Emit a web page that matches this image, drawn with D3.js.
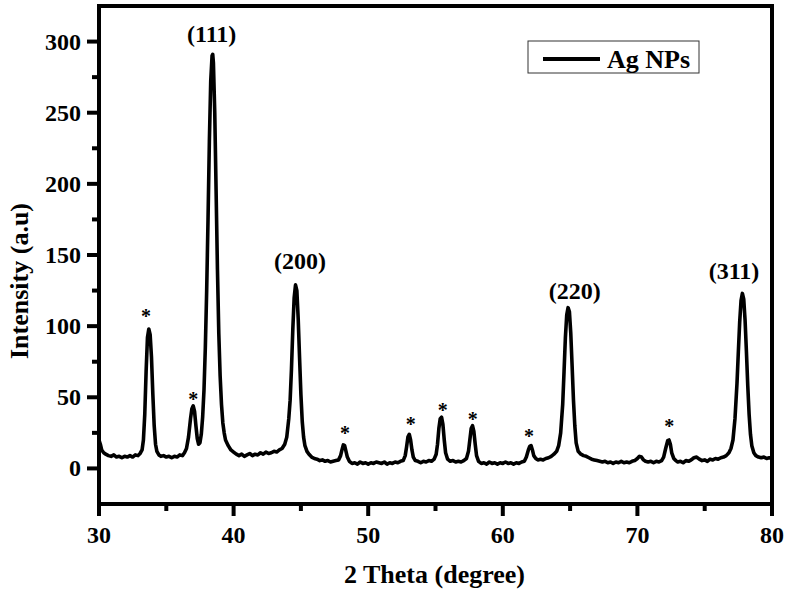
<!DOCTYPE html>
<html>
<head>
<meta charset="utf-8">
<script src="https://cdn.jsdelivr.net/npm/d3@7"></script>
<style>
  body { margin: 0; background: #fff; }
  text { font-family: "Liberation Serif", "Times New Roman", serif; font-weight: bold; fill: #000; }
</style>
</head>
<body>
<script>
const svgWidth = 787
const svgHeight = 597

// 2 theta (degree) and intensity
const twoTheta = [
  30.0, 30.1, 30.2, 30.35, 30.5, 30.7, 30.9, 31.1, 31.3, 31.5, 31.7, 31.9, 32.1, 32.3, 32.5, 32.7, 32.9, 33.05, 33.2,
  33.3, 33.4, 33.5, 33.6, 33.7, 33.8, 33.9, 34.0, 34.1, 34.2, 34.3, 34.45, 34.6, 34.8,
  35.0, 35.2, 35.4, 35.6, 35.8, 36.0, 36.2, 36.35, 36.5, 36.65, 36.8, 36.9, 37.0, 37.1, 37.2, 37.3, 37.4, 37.5,
  37.6, 37.7, 37.8, 37.9, 38.0, 38.1, 38.2, 38.3, 38.4, 38.45, 38.5, 38.6, 38.7, 38.8, 38.9, 39.0, 39.1, 39.2, 39.3, 39.4, 39.6, 39.8,
  40.0, 40.2, 40.4, 40.6, 40.8, 41.0, 41.2, 41.4, 41.6, 41.8, 42.0, 42.2, 42.4, 42.6, 42.8, 43.0, 43.2, 43.4, 43.6, 43.8, 43.95,
  44.1, 44.2, 44.3, 44.4, 44.5, 44.6, 44.7, 44.8, 44.9, 45.0, 45.1, 45.2, 45.3, 45.45, 45.6, 45.8,
  46.0, 46.2, 46.4, 46.6, 46.8, 47.0, 47.2, 47.4, 47.6, 47.8, 47.95, 48.05, 48.15, 48.25, 48.35, 48.45, 48.6, 48.8,
  49.0, 49.2, 49.4, 49.6, 49.8, 50.0, 50.2, 50.4, 50.6, 50.8, 51.0, 51.2, 51.4, 51.6, 51.8, 52.0, 52.2, 52.4, 52.6,
  52.75, 52.85, 52.95, 53.05, 53.15, 53.25, 53.35, 53.5, 53.7, 53.9, 54.1, 54.3, 54.5, 54.7, 54.9,
  55.05, 55.15, 55.25, 55.35, 55.45, 55.55, 55.65, 55.75, 55.9, 56.1, 56.3, 56.5, 56.7, 56.9, 57.1, 57.3,
  57.45, 57.55, 57.65, 57.75, 57.85, 57.95, 58.05, 58.2, 58.4, 58.6, 58.8, 59.0, 59.2, 59.4, 59.6, 59.8,
  60.0, 60.2, 60.4, 60.6, 60.8, 61.0, 61.2, 61.4, 61.6, 61.75, 61.9, 62.0, 62.1, 62.2, 62.3, 62.45, 62.6, 62.8,
  63.0, 63.2, 63.4, 63.6, 63.8, 64.0, 64.15, 64.3, 64.45, 64.55, 64.65, 64.75, 64.85, 64.95, 65.05, 65.15, 65.25, 65.35, 65.45, 65.6, 65.8,
  66.0, 66.2, 66.4, 66.6, 66.8, 67.0, 67.2, 67.4, 67.6, 67.8, 68.0, 68.2, 68.4, 68.6, 68.8, 69.0, 69.2, 69.4, 69.6, 69.8,
  70.0, 70.15, 70.3, 70.45, 70.6, 70.8, 71.0, 71.2, 71.4, 71.6, 71.8, 71.95, 72.1, 72.25, 72.35, 72.45, 72.55, 72.7, 72.85,
  73.0, 73.2, 73.4, 73.6, 73.8, 74.0, 74.2, 74.4, 74.6, 74.8, 75.0, 75.2, 75.4, 75.6, 75.8, 76.0, 76.2, 76.4, 76.6, 76.8, 76.95,
  77.1, 77.25, 77.4, 77.5, 77.6, 77.7, 77.8, 77.9, 78.0, 78.1, 78.2, 78.3, 78.4, 78.5, 78.65, 78.8,
  79.0, 79.2, 79.4, 79.6, 79.8, 80.0
]
const intensity = [
  20, 17, 13, 11, 10, 9, 8.5, 9.5, 8, 8.5, 7.5, 8.5, 8, 9, 8, 9.5, 9, 10.5, 13,
  20, 38, 68, 92, 98, 94, 78, 52, 30, 17, 12, 9.5, 8.5, 9,
  8, 8.5, 7.5, 8.5, 8, 9.5, 9, 11, 14, 22, 35, 42, 44, 40, 30, 21, 17, 18,
  24, 36, 55, 85, 125, 175, 230, 272, 290, 291, 285, 250, 195, 140, 95, 65, 45, 32, 25, 20, 16, 13,
  11.5, 10, 9, 10, 8.5, 9.5, 10.5, 9, 10, 9.5, 11, 10, 11.5, 10.5, 11, 12, 11.5, 13, 14, 17, 22,
  35, 48, 70, 98, 120, 129, 125, 105, 78, 52, 33, 22, 16, 12, 10, 8,
  7, 6.5, 5.5, 6, 5, 5.5, 4.5, 5, 5.5, 6, 9, 13, 16.5, 16, 12, 8, 5, 3.5,
  4, 3, 4.5, 3.5, 4, 3, 4, 3.5, 4.5, 4, 3.5, 4.5, 3, 4, 3.5, 4.5, 4, 5, 5.5,
  9, 15, 22, 24, 20, 13, 8, 5.5, 5, 4, 5, 4.5, 5.5, 5, 6.5,
  10, 17, 28, 35, 36, 31, 20, 11, 6.5, 5, 5.5, 4.5, 5, 4.5, 5.5, 7,
  12, 20, 28, 30, 26, 17, 9, 5, 3.5, 4, 3, 4.5, 3.5, 4, 3, 4,
  3.5, 4.5, 3.5, 4, 3, 4, 3.5, 4.5, 5, 8, 13, 15.5, 16, 13, 9, 7, 6, 6.5,
  6, 7, 7.5, 8.5, 10, 12, 16, 25, 45, 68, 92, 108, 113, 110, 95, 72, 48, 30, 18, 12, 10,
  9, 8.5, 7.5, 6.5, 6, 5.5, 5, 4.5, 5, 4, 4.5, 3.5, 4.5, 4, 5, 4, 4.5, 4, 5, 5.5,
  7, 8.5, 8, 6, 5, 4.5, 5, 4, 5, 4.5, 5.5, 8, 14, 19.5, 20, 17, 11, 7, 5.5,
  4.5, 5, 4, 5.5, 5, 6, 7.5, 8, 6.5, 5.5, 6, 5, 6.5, 6, 7, 6.5, 7.5, 8, 9, 11, 14,
  20, 35, 60, 82, 103, 118, 123, 119, 104, 82, 58, 38, 24, 16, 11, 9,
  8, 7.5, 8, 7, 7.5, 7
]

// Miller index labels (x = label centre, y = baseline, in data units)
const hklLabels = ["(111)", "(200)", "(220)", "(311)"]
const hklX = [38.37, 44.93, 65.35, 77.18]
const hklY = [300, 140, 118.8, 132.8]

// asterisk markers over the impurity peaks
const starX = [33.5, 37.0, 48.28, 53.16, 55.53, 57.76, 61.95, 72.37]
const starY = [109, 51, 26.7, 33, 43, 36.5, 25, 32]

const xMajor = [30, 40, 50, 60, 70, 80]
const xMinor = [35, 45, 55, 65, 75]
const yMajor = [0, 50, 100, 150, 200, 250, 300]
const yMinor = [25, 75, 125, 175, 225, 275]

const seriesName = "Ag NPs"

const margin = { top: 6, right: 15, bottom: 93, left: 99 }
const chartWidth = svgWidth - margin.left - margin.right
const chartHeight = svgHeight - margin.top - margin.bottom

const svg = d3.select("body").append("svg")
  .attr("width", svgWidth)
  .attr("height", svgHeight)

const chartG = svg.append("g")
  .attr("transform", `translate(${margin.left}, ${margin.top})`)

const x = d3.scaleLinear().domain([30, 80]).range([0, chartWidth])
const y = d3.scaleLinear().domain([-25, 325]).range([chartHeight, 0])

// tick marks
const tickG = chartG.append("g")
tickG.selectAll(".xmaj").data(xMajor).enter().append("line")
  .attr("x1", d => x(d)).attr("x2", d => x(d))
  .attr("y1", chartHeight).attr("y2", chartHeight + 12)
  .attr("stroke", "#000").attr("stroke-width", 4)
tickG.selectAll(".xmin").data(xMinor).enter().append("line")
  .attr("x1", d => x(d)).attr("x2", d => x(d))
  .attr("y1", chartHeight).attr("y2", chartHeight + 7)
  .attr("stroke", "#000").attr("stroke-width", 4)
tickG.selectAll(".ymaj").data(yMajor).enter().append("line")
  .attr("x1", 0).attr("x2", -12)
  .attr("y1", d => y(d)).attr("y2", d => y(d))
  .attr("stroke", "#000").attr("stroke-width", 4)
tickG.selectAll(".ymin").data(yMinor).enter().append("line")
  .attr("x1", 0).attr("x2", -7)
  .attr("y1", d => y(d)).attr("y2", d => y(d))
  .attr("stroke", "#000").attr("stroke-width", 4)

// tick labels
chartG.selectAll(".xlab").data(xMajor).enter().append("text")
  .attr("x", d => x(d))
  .attr("y", chartHeight + 39)
  .attr("text-anchor", "middle")
  .style("font-size", "24px")
  .text(d => d)
chartG.selectAll(".ylab").data(yMajor).enter().append("text")
  .attr("x", -18)
  .attr("y", d => y(d) + 8)
  .attr("text-anchor", "end")
  .style("font-size", "24px")
  .text(d => d)

// frame
chartG.append("rect")
  .attr("width", chartWidth).attr("height", chartHeight)
  .attr("fill", "none")
  .attr("stroke", "#000")
  .attr("stroke-width", 4)

const points = twoTheta.map((t, i) => [t, intensity[i]])

const line = d3.line()
  .x(d => x(d[0]))
  .y(d => y(d[1]))

chartG.append("path")
  .datum(points)
  .attr("d", line)
  .attr("fill", "none")
  .attr("stroke", "#000")
  .attr("stroke-width", 3.6)
  .attr("stroke-linejoin", "round")

chartG.selectAll(".hkl")
  .data(hklLabels)
  .enter()
  .append("text")
  .attr("x", (d, i) => x(hklX[i]))
  .attr("y", (d, i) => y(hklY[i]))
  .attr("text-anchor", "middle")
  .style("font-size", "24px")
  .text(d => d)

chartG.selectAll(".star")
  .data(starX)
  .enter()
  .append("text")
  .attr("x", d => x(d))
  .attr("y", (d, i) => y(starY[i]) + 10)
  .attr("text-anchor", "middle")
  .style("font-size", "20px")
  .text("*")

// legend
const legend = svg.append("g")
legend.append("rect")
  .attr("x", 528).attr("y", 41)
  .attr("width", 171).attr("height", 32)
  .attr("fill", "#fff")
  .attr("stroke", "#333")
  .attr("stroke-width", 1)
legend.append("line")
  .attr("x1", 543).attr("x2", 600)
  .attr("y1", 59).attr("y2", 59)
  .attr("stroke", "#000")
  .attr("stroke-width", 4)
legend.append("text")
  .attr("x", 607).attr("y", 68)
  .style("font-size", "26px")
  .text(seriesName)

// axis titles
svg.append("text")
  .attr("x", margin.left + x(55) - 1)
  .attr("y", 583)
  .attr("text-anchor", "middle")
  .style("font-size", "26px")
  .text("2 Theta (degree)")

svg.append("text")
  .attr("transform", "translate(28, 281) rotate(-90)")
  .attr("text-anchor", "middle")
  .style("font-size", "26px")
  .text("Intensity (a.u)")
</script>
</body>
</html>
